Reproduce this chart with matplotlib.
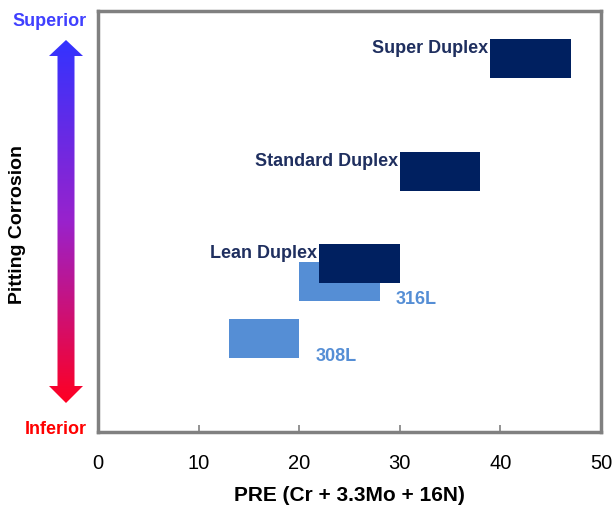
import matplotlib
matplotlib.use("Agg")
import matplotlib.pyplot as plt
import numpy as np
from matplotlib.patches import Polygon
from matplotlib.colors import LinearSegmentedColormap
from matplotlib import font_manager

names = {f.name for f in font_manager.fontManager.ttflist}
NARROW = "Liberation Sans Narrow" if "Liberation Sans Narrow" in names else "Liberation Sans"
plt.rcParams['font.family'] = [NARROW, 'DejaVu Sans']

# data
grades = ["308L", "316L", "Lean Duplex", "Standard Duplex", "Super Duplex"]
pre_min = [13, 20, 22, 30, 39]
pre_max = [20, 28, 30, 38, 47]
level_bottom = [17.5, 31, 35.3, 57.3, 84.1]
bar_height = 9.3
colors = ["#558ED5", "#558ED5", "#002060", "#002060", "#002060"]
xticks = [0, 10, 20, 30, 40, 50]

fig = plt.figure(figsize=(6.14, 5.14), dpi=100)
ax = fig.add_axes([98/614, 1-432/514, 503/614, 421/514])
for g, lo, hi, b, c in zip(grades, pre_min, pre_max, level_bottom, colors):
    ax.barh(b, hi - lo, left=lo, height=bar_height, align='edge', color=c, zorder=3 if c == "#002060" else 2)

dark = "#1F2F5F"
light = "#558ED5"
# labels
for g, lo, hi, b in zip(grades, pre_min, pre_max, level_bottom):
    if "Duplex" in g:
        ax.text(lo - 0.2, b + bar_height - 2.3, g, ha='right', va='center', fontsize=13,
                fontweight='bold', color=dark, zorder=4)
    else:
        ax.text(hi + 1.6, b + 0.4, g, ha='left', va='center', fontsize=13,
                fontweight='bold', color=light, zorder=4)

ax.set_xlim(0, 50)
ax.set_ylim(0, 100)
ax.set_xticks(xticks)
ax.set_yticks([])
ax.tick_params(axis='x', direction='in', length=5, width=1.2, color='#808080',
               labelsize=14.5, pad=16)
for s in ax.spines.values():
    s.set_color('#808080')
    s.set_linewidth(2.5)
ax.set_xlabel("PRE (Cr + 3.3Mo + 16N)", fontsize=15, fontweight='bold', labelpad=9)

# gradient arrow
arr_ax = fig.add_axes([0, 0, 1, 1], zorder=-1)
arr_ax.set_xlim(0, 614)
arr_ax.set_ylim(514, 0)
arr_ax.axis('off')
cmap = LinearSegmentedColormap.from_list("g", ["#3333FF", "#9922CC", "#FF0022"])
grad = np.linspace(0, 1, 256).reshape(-1, 1)
im = arr_ax.imshow(grad, cmap=cmap, extent=[49, 83, 403, 40], aspect='auto')
poly = Polygon([(66, 40), (83, 56), (74.5, 56), (74.5, 386), (83, 386), (66, 403),
                (49, 386), (57.5, 386), (57.5, 56), (49, 56)], closed=True,
               transform=arr_ax.transData, facecolor='none', edgecolor='none')
arr_ax.add_patch(poly)
im.set_clip_path(poly)

fig.text(50/614, 1-22/514, "Superior", ha='center', va='center', fontsize=13,
         fontweight='bold', color='#4040FF')
fig.text(56/614, 1-429/514, "Inferior", ha='center', va='center', fontsize=13,
         fontweight='bold', color='#FF0000')
fig.text(18/614, 1-224/514, "Pitting Corrosion", ha='center', va='center', fontsize=14,
         fontweight='bold', rotation=90, color='black')

fig.savefig("out.png", dpi=100)
